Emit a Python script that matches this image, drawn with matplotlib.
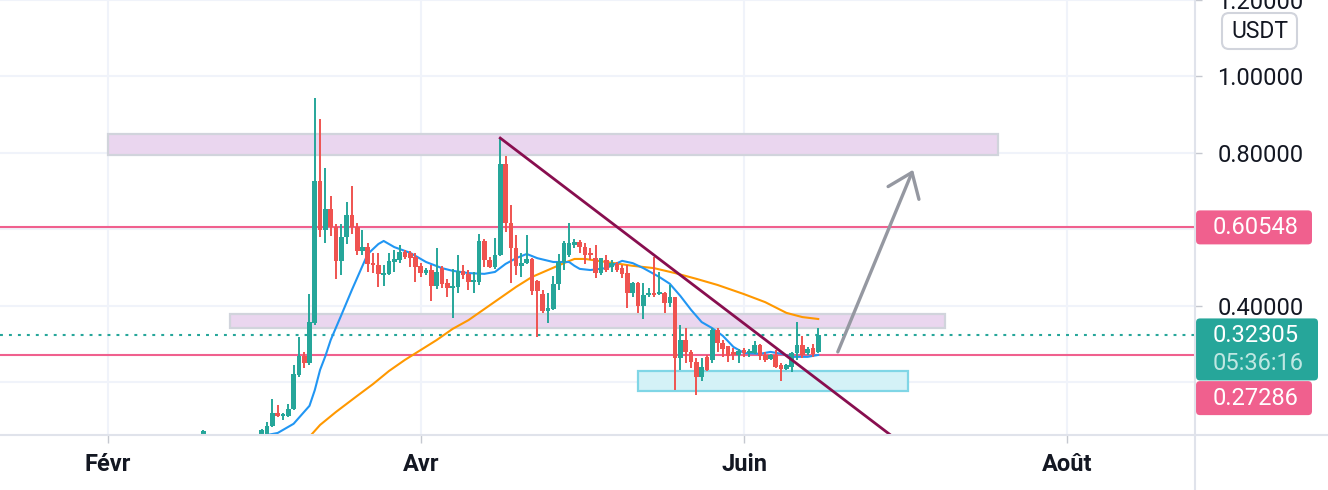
import numpy as np
import pandas as pd
import matplotlib
matplotlib.use('Agg')
import matplotlib.pyplot as plt
from matplotlib.patches import Rectangle, FancyBboxPatch, FancyArrowPatch
from matplotlib.lines import Line2D
from matplotlib.transforms import IdentityTransform

plt.rcParams['font.family'] = ['Roboto', 'DejaVu Sans']

ORIGIN = pd.Timestamp('2021-02-01')

# daily candles (first one only shows its wick above the bottom edge)
candle_dates = ['2021-02-19'] + list(pd.date_range('2021-03-02', '2021-06-15').strftime('%Y-%m-%d'))
opens = [0.060,
         0.064, 0.066, 0.086, 0.120, 0.112, 0.112,
         0.131, 0.220, 0.269, 0.251, 0.356, 0.727, 0.599, 0.654, 0.607, 0.518,
         0.580, 0.638, 0.607, 0.544, 0.554, 0.512, 0.507, 0.481, 0.484, 0.515,
         0.520, 0.541, 0.539, 0.528, 0.505, 0.486, 0.494, 0.452, 0.499, 0.460,
         0.447, 0.450, 0.492, 0.484, 0.463, 0.463, 0.570, 0.520, 0.502, 0.533,
         0.771, 0.617, 0.552, 0.505, 0.512, 0.523, 0.465, 0.431, 0.387, 0.392,
         0.458, 0.515, 0.533, 0.559, 0.567, 0.554, 0.539, 0.525, 0.486, 0.520,
         0.502, 0.510, 0.499, 0.486, 0.434, 0.460, 0.400, 0.429, 0.434, 0.431,
         0.434, 0.408, 0.424, 0.264, 0.311, 0.280, 0.254, 0.214, 0.267, 0.259,
         0.337, 0.303, 0.295, 0.280, 0.272, 0.285, 0.277, 0.277, 0.298, 0.272,
         0.262, 0.272, 0.246, 0.235, 0.241, 0.277, 0.298, 0.277, 0.290, 0.280]
highs = [0.075,
         0.078, 0.097, 0.157, 0.141, 0.120, 0.144,
         0.246, 0.319, 0.280, 0.431, 0.944, 0.889, 0.761, 0.688, 0.614, 0.614,
         0.672, 0.714, 0.617, 0.599, 0.565, 0.539, 0.539, 0.507, 0.539, 0.546,
         0.559, 0.546, 0.544, 0.539, 0.512, 0.499, 0.507, 0.552, 0.505, 0.471,
         0.497, 0.533, 0.507, 0.494, 0.489, 0.588, 0.575, 0.528, 0.578, 0.839,
         0.792, 0.664, 0.586, 0.539, 0.586, 0.525, 0.468, 0.442, 0.434, 0.478,
         0.536, 0.570, 0.617, 0.575, 0.572, 0.565, 0.552, 0.559, 0.525, 0.533,
         0.520, 0.515, 0.507, 0.507, 0.463, 0.463, 0.460, 0.447, 0.528, 0.489,
         0.437, 0.455, 0.424, 0.350, 0.342, 0.285, 0.264, 0.264, 0.272, 0.342,
         0.342, 0.311, 0.295, 0.290, 0.288, 0.290, 0.288, 0.308, 0.300, 0.280,
         0.275, 0.285, 0.251, 0.248, 0.280, 0.358, 0.322, 0.293, 0.300, 0.342]
lows = [0.050,
        0.060, 0.062, 0.084, 0.110, 0.102, 0.110,
        0.128, 0.215, 0.238, 0.245, 0.350, 0.580, 0.565, 0.583, 0.471, 0.481,
        0.562, 0.588, 0.533, 0.533, 0.489, 0.486, 0.450, 0.452, 0.482, 0.489,
        0.512, 0.523, 0.502, 0.463, 0.476, 0.481, 0.413, 0.444, 0.447, 0.424,
        0.369, 0.434, 0.471, 0.442, 0.434, 0.455, 0.502, 0.499, 0.497, 0.530,
        0.593, 0.460, 0.481, 0.476, 0.510, 0.429, 0.319, 0.382, 0.356, 0.390,
        0.442, 0.494, 0.528, 0.552, 0.539, 0.510, 0.520, 0.473, 0.481, 0.489,
        0.489, 0.489, 0.473, 0.395, 0.424, 0.382, 0.366, 0.424, 0.424, 0.429,
        0.382, 0.398, 0.180, 0.233, 0.251, 0.238, 0.167, 0.204, 0.230, 0.251,
        0.280, 0.267, 0.254, 0.259, 0.251, 0.267, 0.267, 0.275, 0.259, 0.254,
        0.259, 0.238, 0.204, 0.233, 0.228, 0.259, 0.264, 0.272, 0.267, 0.277]
closes = [0.073,
          0.075, 0.086, 0.120, 0.112, 0.118, 0.131,
          0.222, 0.269, 0.251, 0.358, 0.727, 0.599, 0.654, 0.607, 0.518, 0.580,
          0.638, 0.607, 0.544, 0.554, 0.510, 0.507, 0.484, 0.486, 0.518, 0.523,
          0.541, 0.528, 0.525, 0.502, 0.486, 0.494, 0.452, 0.489, 0.458, 0.447,
          0.452, 0.492, 0.481, 0.463, 0.468, 0.570, 0.520, 0.502, 0.533, 0.771,
          0.617, 0.552, 0.505, 0.512, 0.523, 0.439, 0.439, 0.387, 0.395, 0.458,
          0.515, 0.565, 0.565, 0.567, 0.554, 0.533, 0.533, 0.486, 0.525, 0.494,
          0.512, 0.494, 0.484, 0.434, 0.460, 0.400, 0.429, 0.434, 0.429, 0.437,
          0.408, 0.424, 0.264, 0.311, 0.280, 0.254, 0.214, 0.241, 0.233, 0.337,
          0.303, 0.288, 0.269, 0.272, 0.282, 0.277, 0.282, 0.298, 0.269, 0.259,
          0.272, 0.241, 0.235, 0.246, 0.277, 0.298, 0.272, 0.288, 0.275, 0.323]

# moving averages (days after 1 Feb, price)
ma_fast_days = [29, 32, 35, 38, 39, 40, 41, 42, 44, 46, 48, 49, 51, 52, 54, 57, 60, 63, 65, 68,
                71, 73, 75, 77, 79, 81, 84, 87, 88, 89, 91, 94, 97, 99, 101, 104, 106, 108, 110, 112,
                114, 116, 118, 120, 123, 125, 127, 129, 132, 134]
ma_fast = [0.060, 0.068, 0.092, 0.139, 0.180, 0.233, 0.269, 0.311, 0.376, 0.442,
           0.505, 0.536, 0.562, 0.570, 0.554, 0.539, 0.515, 0.499, 0.492, 0.486,
           0.484, 0.489, 0.510, 0.525, 0.536, 0.525, 0.515, 0.515, 0.505, 0.497,
           0.494, 0.499, 0.518, 0.512, 0.499, 0.476, 0.458, 0.426, 0.390, 0.358,
           0.342, 0.322, 0.293, 0.277, 0.275, 0.280, 0.275, 0.267, 0.267, 0.272]
ma_slow_days = [38, 40, 43, 47, 50, 53, 56, 59, 62, 65, 68, 71, 74, 77, 80, 83, 86, 88, 90, 94,
                99, 103, 107, 111, 115, 120, 124, 128, 131, 134]
ma_slow = [0.058, 0.089, 0.123, 0.165, 0.196, 0.230, 0.259, 0.285, 0.311, 0.340,
           0.363, 0.392, 0.421, 0.450, 0.476, 0.494, 0.512, 0.523, 0.523, 0.515,
           0.505, 0.499, 0.486, 0.471, 0.455, 0.431, 0.410, 0.382, 0.371, 0.366]

month_ticks = ['2021-02-01', '2021-04-01', '2021-06-01', '2021-08-01']
month_labels = ['Févr', 'Avr', 'Juin', 'Août']
price_ticks = [0.4, 0.8, 1.0, 1.2]
grid_levels = [0.2, 0.4, 0.6, 0.8, 1.0, 1.2]

last_price = 0.32305
countdown = '05:36:16'
resistance = 0.60548
support = 0.27286
currency = 'USDT'

# drawings: (start, end, low, high)
zones = [('2021-02-01', '2021-07-19', 0.795, 0.850),
         ('2021-02-24', '2021-07-09', 0.342, 0.379),
         ('2021-05-12', '2021-07-02', 0.178, 0.230)]
zone_colors = [('#ead6ef', '#d1d4dc'), ('#ead6ef', '#d1d4dc'), ('#d4f2f7', '#80d6e6')]
trend_days = [74, 148]
trend_prices = [0.839, 0.059]
arrow_days = [137.7, 151.9]
arrow_prices = [0.280, 0.756]


def day(s):
    return (pd.Timestamp(s) - ORIGIN).days


GREEN, RED = '#26a69a', '#ef5350'
PINK = '#f0608e'
TXT = '#131722'
W, H = 1328, 490

fig = plt.figure(figsize=(W / 100, H / 100), dpi=100)
ax = fig.add_axes([0, 55 / H, 1195 / W, 435 / H])
ax.set_xlim(-20.4, 205.1)
ax.set_ylim(0.0627, 1.2)

for g in grid_levels:
    ax.axhline(g, color='#f0f3fa', lw=1.5, zorder=0)
month_days = [day(m) for m in month_ticks]
for m in month_days:
    ax.axvline(m, color='#f0f3fa', lw=1.5, zorder=0)

for (s, e, lo, hi), (fc, ec) in zip(zones, zone_colors):
    ax.add_patch(Rectangle((day(s), lo), day(e) - day(s), hi - lo, fc=fc, ec=ec, lw=1.6, zorder=1))

ax.axhline(resistance, color=PINK, lw=1.5, zorder=2)
ax.axhline(support, color=PINK, lw=1.5, zorder=2)
ax.axhline(last_price, color=GREEN, lw=1.5, ls=(0, (1.4, 2.9)), zorder=2)

ax.plot(ma_slow_days, ma_slow, color='#ff9800', lw=1.5, zorder=3)
ax.plot(ma_fast_days, ma_fast, color='#2196f3', lw=1.5, zorder=3)

x = np.array([day(d) for d in candle_dates])
o, h, l, c = map(np.array, (opens, highs, lows, closes))
cols = np.where(c >= o, GREEN, RED)
ax.vlines(x, l, h, colors=cols, lw=1.4, zorder=4)
body = np.maximum(np.abs(c - o), 0.005)
ax.bar(x, body, bottom=np.minimum(o, c), width=0.88, color=cols, lw=0, zorder=5)

ax.plot(trend_days, trend_prices, color='#880e4f', lw=2, zorder=6)
ax.add_patch(FancyArrowPatch((arrow_days[0], arrow_prices[0]), (arrow_days[1], arrow_prices[1]),
                             arrowstyle='->,head_length=0.8,head_width=0.6', mutation_scale=20,
                             color='#9598a1', lw=2.4, zorder=6, shrinkA=0, shrinkB=0))

ax.yaxis.tick_right()
ax.set_yticks(price_ticks)
ax.set_yticklabels([f'{v:.5f}' for v in price_ticks])
ax.tick_params(axis='y', length=5, width=1, color='#c5c8d0', pad=11, labelsize=17, labelcolor=TXT)
ax.set_xticks(month_days)
ax.set_xticklabels(month_labels, fontweight='bold')
ax.tick_params(axis='x', length=6, width=1, color='#c5c8d0', pad=7, labelsize=17, labelcolor=TXT)
for sp in ax.spines.values():
    sp.set_visible(False)

fig.add_artist(Line2D([0, 1], [55 / H, 55 / H], transform=fig.transFigure, color='#e0e3eb', lw=1.5))
fig.add_artist(Line2D([1195 / W, 1195 / W], [0, 1], transform=fig.transFigure, color='#e0e3eb', lw=1.5))

# price tags on the right scale
ident = IdentityTransform()


def ydisp(p):
    return ax.transData.transform((0, p))[1]


def tag(yc, w, hgt, fc):
    fig.add_artist(FancyBboxPatch((1196, yc - hgt / 2), w, hgt,
                                  boxstyle='round,pad=0,rounding_size=4',
                                  fc=fc, ec='none', transform=ident))


yr = ydisp(resistance)
tag(yr, 116, 34, PINK)
fig.text(1213, yr, f'{resistance:.5f}', transform=ident, color='white', fontsize=17, va='center')

yl = ydisp(last_price)
fig.add_artist(FancyBboxPatch((1196, yl - 45), 122, 62, boxstyle='round,pad=0,rounding_size=4',
                              fc=GREEN, ec='none', transform=ident))
fig.text(1213, yl, f'{last_price:.5f}', transform=ident, color='white', fontsize=17, va='center')
fig.text(1213, yl - 28, countdown, transform=ident, color='#bfe7e2', fontsize=17, va='center')

ys = ydisp(support) - 43.5
tag(ys, 116, 34, PINK)
fig.text(1213, ys, f'{support:.5f}', transform=ident, color='white', fontsize=17, va='center')

fig.add_artist(FancyBboxPatch((1222, H - 49), 75, 36, boxstyle='round,pad=0,rounding_size=7',
                              fc='white', ec='#d1d4dc', lw=1.5, transform=ident))
fig.text(1259.5, H - 31, currency, transform=ident, color=TXT, fontsize=16.5, ha='center', va='center')

fig.savefig('out.png', dpi=100)
